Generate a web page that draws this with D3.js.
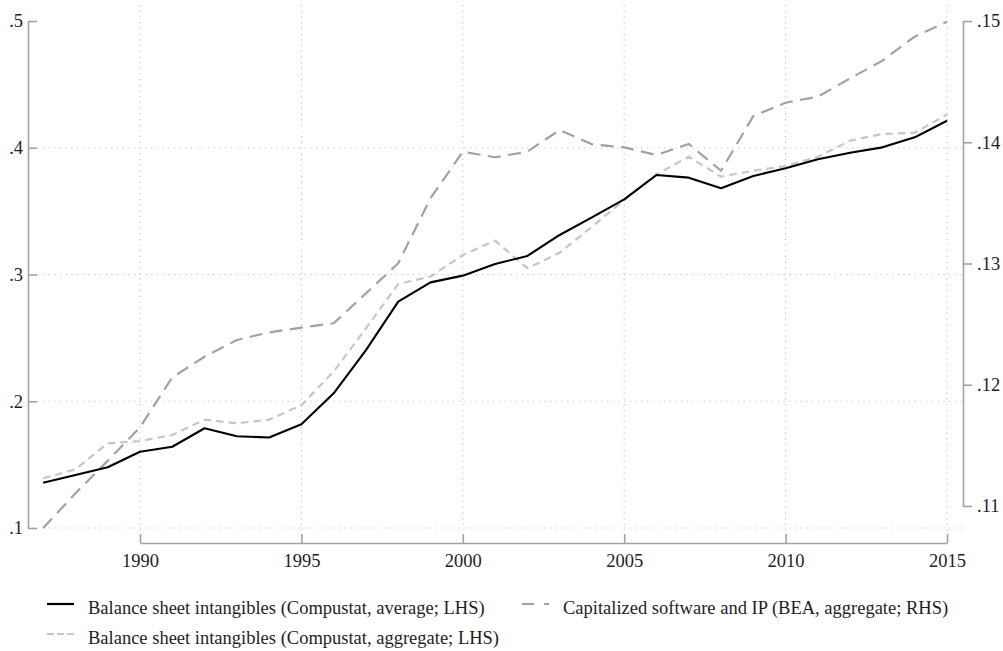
<!DOCTYPE html>
<html>
<head>
<meta charset="utf-8">
<script src="https://cdn.jsdelivr.net/npm/d3@7"></script>
<style>
  html, body { margin: 0; padding: 0; background: #fff; }
  svg { display: block; font-family: "Liberation Serif", "DejaVu Serif", serif; }
</style>
</head>
<body>
<svg id="chart" width="1003" height="651"></svg>
<script>
// ---- data ----
const years = [1987,1988,1989,1990,1991,1992,1993,1994,1995,1996,1997,1998,1999,2000,2001,2002,2003,2004,2005,2006,2007,2008,2009,2010,2011,2012,2013,2014,2015];
const compustatAverage = [.1357,.1418,.1479,.1602,.1641,.1787,.1724,.1714,.1819,.2063,.2404,.2786,.2938,.2991,.3083,.3146,.3312,.3451,.3593,.3785,.3764,.3680,.3777,.3838,.3909,.3961,.4003,.4082,.4213];
const compustatAggregate = [.1392,.1463,.1668,.1686,.1734,.1855,.1826,.1855,.1968,.2235,.2576,.2925,.2983,.3154,.3267,.3049,.3172,.3377,.3588,.3790,.3929,.3772,.3819,.3856,.3929,.4056,.4109,.4119,.4262];
const beaSoftwareIP = [.10819,.11105,.11374,.11649,.12061,.12231,.12369,.12432,.12471,.12507,.12754,.13002,.13538,.13922,.13876,.13922,.14101,.13983,.13958,.13895,.13986,.13765,.14216,.14326,.14376,.14527,.14673,.14871,.14994];
const xTicks = [1990,1995,2000,2005,2010,2015];
const yLeftTicks = [.1,.2,.3,.4,.5];
const yRightTicks = [.11,.12,.13,.14,.15];
const legendLabels = [
  "Balance sheet intangibles (Compustat, average; LHS)",
  "Capitalized software and IP (BEA, aggregate; RHS)",
  "Balance sheet intangibles (Compustat, aggregate; LHS)"
];

// ---- layout ----
const svg = d3.select("#chart");
const x = d3.scaleLinear().domain([1990, 2015]).range([140, 947]);
const yL = d3.scaleLinear().domain([0.1, 0.5]).range([528, 21]);
const yR = d3.scaleLinear().domain([0.11, 0.15]).range([506, 21]);

const axisColor = "#a3a3a3";
const gridColor = "#c6c6c6";
const textColor = "#1e1e1e";
const fontSize = 18.5;

const fmtL = d => d3.format(".1f")(d).replace(/^0/, "");
const fmtR = d => d3.format(".2f")(d).replace(/^0/, "");

// gridlines
const grid = svg.append("g");
grid.selectAll(".hg").data(yLeftTicks.filter(d => d < 0.45)).join("line")
  .attr("x1", 37).attr("x2", 962)
  .attr("y1", d => yL(d)).attr("y2", d => yL(d))
  .attr("stroke", gridColor).attr("stroke-width", 1.2).attr("stroke-dasharray", "1.2,4.5");
grid.selectAll(".vg").data(xTicks).join("line")
  .attr("x1", d => x(d)).attr("x2", d => x(d))
  .attr("y1", 5).attr("y2", 534)
  .attr("stroke", gridColor).attr("stroke-width", 1.2).attr("stroke-dasharray", "1.2,4.5");

// left axis
const gL = svg.append("g").attr("transform", "translate(28,0)")
  .call(d3.axisLeft(yL).tickValues(yLeftTicks).tickFormat(fmtL).tickSizeOuter(0).tickSizeInner(9).tickPadding(5));
gL.selectAll(".tick line").attr("x2", 9);
gL.selectAll(".tick text").attr("x", -5);

// right axis
const gR = svg.append("g").attr("transform", "translate(963,0)")
  .call(d3.axisRight(yR).tickValues(yRightTicks).tickFormat(fmtR).tickSizeOuter(0).tickSizeInner(9).tickPadding(5));

// bottom axis
const gB = svg.append("g").attr("transform", "translate(0,543)")
  .call(d3.axisBottom(x).tickValues(xTicks).tickFormat(d3.format("d")).tickSizeOuter(0).tickSizeInner(9).tickPadding(5));
gB.selectAll(".tick line").attr("y2", -9);
gB.selectAll(".tick text").attr("y", 23.5).attr("dy", 0);

[gL, gR, gB].forEach(g => {
  g.select(".domain").attr("stroke", axisColor).attr("stroke-width", 1.6);
  g.selectAll(".tick line").attr("stroke", axisColor).attr("stroke-width", 1.6);
  g.selectAll(".tick text").attr("fill", textColor)
    .attr("font-family", "Liberation Serif, serif").attr("font-size", fontSize);
});

// lines
const lineL = d3.line().x((d, i) => x(years[i])).y(d => yL(d));
const lineR = d3.line().x((d, i) => x(years[i])).y(d => yR(d));

const series = [
  { data: beaSoftwareIP, gen: lineR, color: "#a2a2a2", dash: "13,7.5", w: 2.2 },
  { data: compustatAggregate, gen: lineL, color: "#c6c6c6", dash: "7.5,5", w: 2.2 },
  { data: compustatAverage, gen: lineL, color: "#000000", dash: null, w: 2.1 }
];
series.forEach(s => {
  svg.append("path").attr("d", s.gen(s.data))
    .attr("fill", "none").attr("stroke", s.color).attr("stroke-width", s.w)
    .attr("stroke-dasharray", s.dash).attr("stroke-linejoin", "round");
});

// legend
const legendItems = [
  { label: legendLabels[0], x0: 47, y: 604, color: "#000000", dash: null },
  { label: legendLabels[1], x0: 522, y: 604, color: "#a2a2a2", dash: "12,10" },
  { label: legendLabels[2], x0: 47, y: 634, color: "#c6c6c6", dash: "7,3" }
];
const lg = svg.append("g");
legendItems.forEach(it => {
  lg.append("line").attr("x1", it.x0).attr("x2", it.x0 + 27)
    .attr("y1", it.y).attr("y2", it.y)
    .attr("stroke", it.color).attr("stroke-width", 2.2).attr("stroke-dasharray", it.dash);
  lg.append("text").attr("x", it.x0 + 41).attr("y", it.y + 9.5)
    .attr("fill", textColor).attr("font-size", fontSize).text(it.label);
});
</script>
</body>
</html>
